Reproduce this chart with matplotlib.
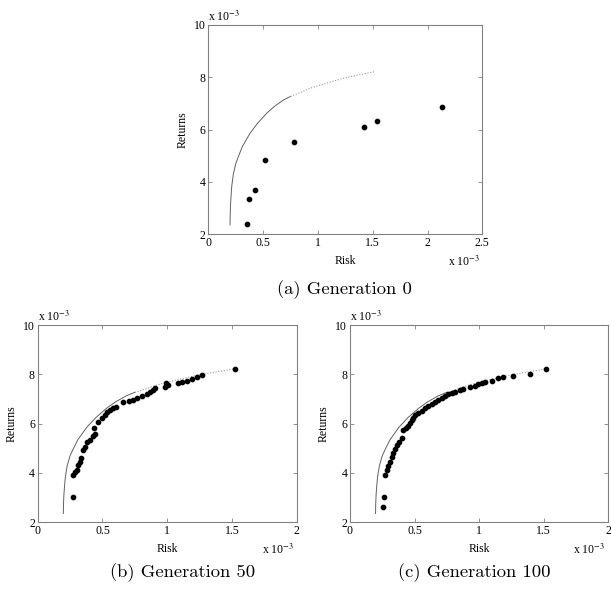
import matplotlib
matplotlib.use("Agg")
import matplotlib.pyplot as plt
from matplotlib.ticker import FuncFormatter

plt.rcParams['mathtext.fontset'] = 'stix'
plt.rcParams['font.family'] = ['Liberation Serif', 'DejaVu Serif']

# All values in units of 1e-3
frontier_risk = [0.198, 0.199, 0.202, 0.207, 0.213, 0.228, 0.250, 0.274, 0.310, 0.380,
                 0.450, 0.533, 0.600, 0.684, 0.750, 0.800, 0.928, 1.080, 1.230, 1.380, 1.520]
frontier_ret = [2.36, 2.70, 3.10, 3.45, 3.82, 4.30, 4.70, 4.97, 5.35, 5.86,
                6.25, 6.63, 6.88, 7.13, 7.27, 7.35, 7.58, 7.78, 7.96, 8.10, 8.22]

gen0_risk = [0.353, 0.368, 0.429, 0.520, 0.785, 1.420, 1.540, 2.130]
gen0_ret = [2.39, 3.35, 3.70, 4.83, 5.53, 6.10, 6.33, 6.85]

gen50_risk = [0.270, 0.275, 0.288, 0.300, 0.314, 0.327, 0.335, 0.347, 0.365, 0.384,
              0.404, 0.425, 0.443, 0.438, 0.468, 0.494, 0.520, 0.538, 0.559, 0.584,
              0.605, 0.660, 0.708, 0.734, 0.765, 0.803, 0.842, 0.867, 0.888, 0.906,
              0.983, 0.991, 1.004, 1.086, 1.112, 1.150, 1.190, 1.230, 1.266, 1.524]
gen50_ret = [3.01, 3.92, 4.05, 4.12, 4.32, 4.46, 4.60, 4.93, 5.07, 5.27,
             5.34, 5.50, 5.58, 5.81, 6.08, 6.22, 6.35, 6.49, 6.55, 6.62,
             6.69, 6.89, 6.92, 6.96, 7.03, 7.12, 7.20, 7.30, 7.36, 7.46,
             7.50, 7.64, 7.57, 7.66, 7.70, 7.74, 7.80, 7.88, 7.97, 8.22]

gen100_risk = [0.258, 0.266, 0.271, 0.284, 0.297, 0.310, 0.323, 0.335, 0.348, 0.361,
               0.382, 0.400, 0.408, 0.434, 0.452, 0.465, 0.477, 0.490, 0.503, 0.529,
               0.555, 0.581, 0.606, 0.632, 0.658, 0.684, 0.710, 0.735, 0.761, 0.787,
               0.813, 0.852, 0.877, 0.929, 0.968, 0.994, 1.019, 1.045, 1.097, 1.148,
               1.187, 1.265, 1.394, 1.517]
gen100_ret = [2.61, 3.01, 3.92, 4.12, 4.28, 4.46, 4.66, 4.82, 4.96, 5.14,
              5.27, 5.41, 5.74, 5.81, 5.91, 6.01, 6.15, 6.24, 6.35, 6.45,
              6.53, 6.62, 6.72, 6.78, 6.86, 6.96, 7.03, 7.12, 7.19, 7.26,
              7.30, 7.36, 7.39, 7.50, 7.54, 7.59, 7.64, 7.68, 7.74, 7.84,
              7.89, 7.95, 8.01, 8.20]

panels = [
    dict(risk=gen0_risk, ret=gen0_ret, xmax=2.5, xticks=[0, 0.5, 1, 1.5, 2, 2.5],
         caption='(a) Generation 0', rect=[0.341, 0.6042, 0.4484, 0.3536], cap=(0.563, 0.510)),
    dict(risk=gen50_risk, ret=gen50_ret, xmax=2.0, xticks=[0, 0.5, 1, 1.5, 2],
         caption='(b) Generation 50', rect=[0.0617, 0.1177, 0.4239, 0.3333], cap=(0.299, 0.032)),
    dict(risk=gen100_risk, ret=gen100_ret, xmax=2.0, xticks=[0, 0.5, 1, 1.5, 2],
         caption='(c) Generation 100', rect=[0.5728, 0.1177, 0.4227, 0.3333], cap=(0.776, 0.032)),
]

fig = plt.figure(figsize=(6.11, 5.92), dpi=100)
frame_col = '#808080'
fmt = FuncFormatter(lambda v, p: '%g' % v)

split = 14  # index where frontier turns dotted
for p in panels:
    ax = fig.add_axes(p['rect'])
    ax.plot(frontier_risk[:split + 1], frontier_ret[:split + 1], color='#606060', lw=0.7)
    ax.plot(frontier_risk[split:], frontier_ret[split:], color='#9a9a9a', lw=0.8, ls=(0, (1, 1.5)))
    ax.plot(p['risk'], p['ret'], 'o', color='black', ms=3.1, mec='black')
    ax.set_xlim(0, p['xmax'])
    ax.set_ylim(2, 10)
    ax.set_xticks(p['xticks'])
    ax.set_yticks([2, 4, 6, 8, 10])
    ax.xaxis.set_major_formatter(fmt)
    ax.yaxis.set_major_formatter(fmt)
    ax.tick_params(direction='in', length=3, width=0.6, color=frame_col,
                   top=True, right=True, labelsize=8.5, pad=2)
    for s in ax.spines.values():
        s.set_color(frame_col)
        s.set_linewidth(0.8)
    ax.set_xlabel('Risk', fontsize=8.5, labelpad=4)
    ax.set_ylabel('Returns', fontsize=8.5, labelpad=4)
    ax.text(0.0, 1.005, r'x 10$^{-3}$', transform=ax.transAxes, ha='left', va='bottom',
            fontsize=8.5)
    ax.annotate(r'x 10$^{-3}$', xy=(1, 0), xycoords='axes fraction', xytext=(-2, -20),
                textcoords='offset points', ha='right', va='center', fontsize=8.5)
    fig.text(p['cap'][0], p['cap'][1], p['caption'], ha='center', va='center',
             fontfamily='cmr10', fontsize=13.4)

fig.savefig('out.png', dpi=100)
